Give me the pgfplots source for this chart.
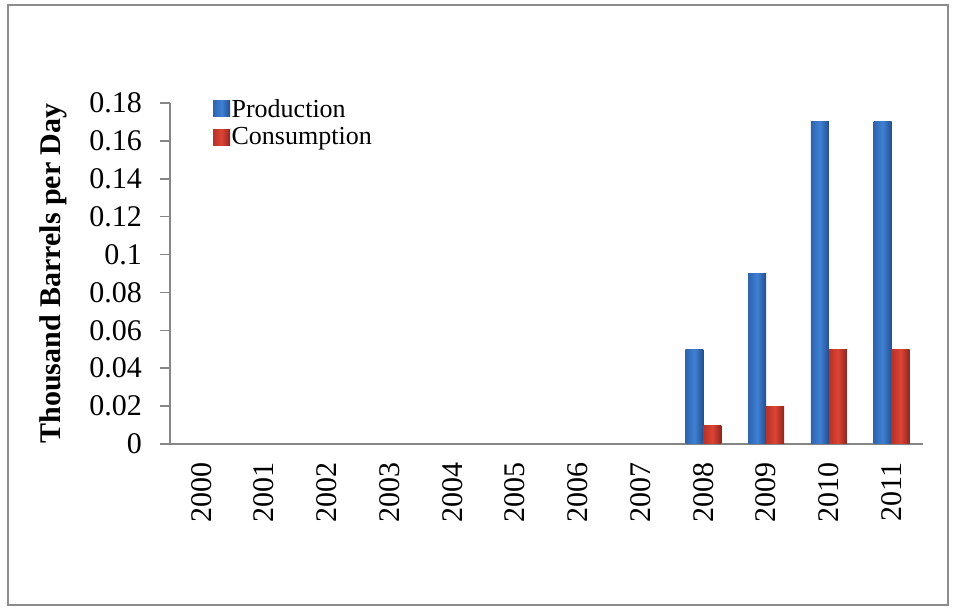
\documentclass[border=0pt]{standalone}
\usepackage{fontspec}
\setmainfont{Liberation Serif}
\usepackage{pgfplots}
\pgfplotsset{compat=1.18}
\definecolor{axgray}{HTML}{868686}
\definecolor{framegray}{HTML}{8C8C8C}
\definecolor{bluemid}{HTML}{3F80D4}
\definecolor{blueleft}{HTML}{2E64AE}
\definecolor{blueright}{HTML}{234E8C}
\definecolor{redmid}{HTML}{DC4434}
\definecolor{redleft}{HTML}{B83228}
\definecolor{redright}{HTML}{8E241E}
\pgfplotsset{
  prodbar/.style={draw=none, left color=blueleft, right color=blueright, middle color=bluemid, bar shift=-9pt},
  consbar/.style={draw=none, left color=redleft, right color=redright, middle color=redmid, bar shift=9pt},
}
\begin{document}
\begin{tikzpicture}[x=1pt,y=1pt]
\path[use as bounding box, fill=white] (0,0) rectangle (956,613);
\draw[framegray, line width=1.5pt] (8,8) rectangle (948,608);
\begin{axis}[
  at={(170pt,169pt)}, anchor=south west,
  scale only axis, width=753pt, height=341pt,
  xmin=-0.5, xmax=11.5, ymin=0, ymax=0.18,
  enlargelimits=false, clip=false,
  axis lines*=left,
  axis line style={axgray, line width=2pt},
  ytick={0,0.02,0.04,0.06,0.08,0.1,0.12,0.14,0.16,0.18},
  yticklabels={0,0.02,0.04,0.06,0.08,0.1,0.12,0.14,0.16,0.18},
  tick align=outside, major tick length=10pt,
  ytick style={axgray, line width=1.5pt},
  yticklabel style={font=\fontsize{30}{36}\selectfont, inner sep=0pt, xshift=-18pt},
  xtick={0,1,2,3,4,5,6,7,8,9,10,11},
  xticklabels={2000,2001,2002,2003,2004,2005,2006,2007,2008,2009,2010,2011},
  xtick style={draw=none},
  xticklabel style={yshift=-8pt, rotate=90, anchor=east, font=\fontsize{30}{36}\selectfont, inner sep=0pt},
  ylabel={Thousand Barrels per Day},
  ylabel style={font=\bfseries\fontsize{30}{36}\selectfont, at={(axis description cs:-0.1554,0.5)}, anchor=center, rotate=0},
  ybar, bar width=18pt,
  legend cell align=left,
  legend style={draw=none, fill=none, at={(rel axis cs:0.057,1.025)}, anchor=north west,
    font=\fontsize{26}{31}\selectfont, inner sep=0pt, row sep=0pt,
    nodes={inner xsep=1.5pt, inner ysep=4.5pt}},
  legend image code/.code={\path[#1, draw=none] (0pt,-8pt) rectangle (17pt,8pt);},
]
% Production
\addplot[prodbar] coordinates {(8,0.05)};
\addplot[consbar] coordinates {(8,0.01)};
\addplot[prodbar, forget plot] coordinates {(9,0.09)};
\addplot[prodbar, forget plot] coordinates {(10,0.17)};
\addplot[prodbar, forget plot] coordinates {(11,0.17)};
% Consumption
\addplot[consbar, forget plot] coordinates {(9,0.02)};
\addplot[consbar, forget plot] coordinates {(10,0.05)};
\addplot[consbar, forget plot] coordinates {(11,0.05)};
% 2000-2007: zero for both series
\addplot[prodbar, forget plot] coordinates {(0,0) (1,0) (2,0) (3,0) (4,0) (5,0) (6,0) (7,0)};
\addplot[consbar, forget plot] coordinates {(0,0) (1,0) (2,0) (3,0) (4,0) (5,0) (6,0) (7,0)};
\legend{Production, Consumption}
\end{axis}
\end{tikzpicture}
\end{document}
